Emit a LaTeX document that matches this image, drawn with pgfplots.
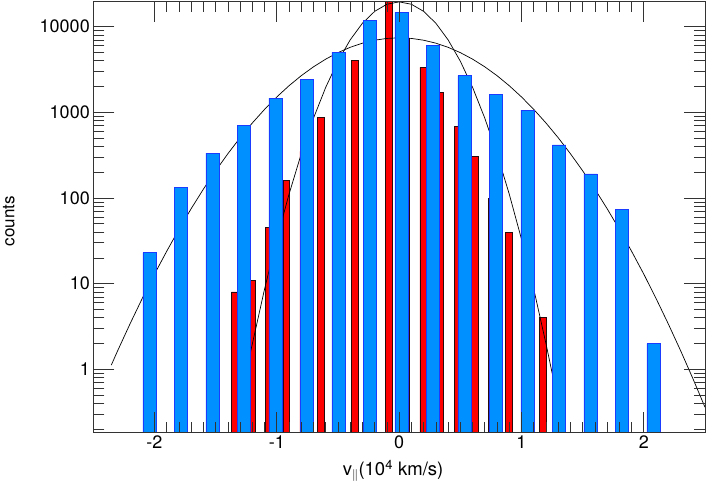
\documentclass[border=0pt]{standalone}
\usepackage{fontspec}
\setmainfont{TeX Gyre Heros}
\usepackage{pgfplots}
\usetikzlibrary{plotmarks}
\pgfplotsset{compat=1.18}
\definecolor{bfill}{RGB}{0,144,255}
\definecolor{bedge}{RGB}{25,60,255}
\definecolor{rfill}{RGB}{255,0,0}
\definecolor{redge}{RGB}{40,10,10}
\begin{document}
\begin{tikzpicture}
\path[use as bounding box] (0,0) rectangle (706pt,488pt);
\begin{axis}[
  at={(93.3pt,55.7pt)}, anchor=south west,
  scale only axis, width=611.7pt, height=430.6pt,
  ymode=log,
  xmin=-2.5, xmax=2.5, ymin=0.184, ymax=19590,
  xtick={-2,-1,0,1,2}, xticklabels={-2,-1,0,1,2},
  minor x tick num=9,
  ytick={1,10,100,1000,10000}, yticklabels={1,10,100,1000,10000},
  tick align=inside, xtick pos=both, ytick pos=both,
  major tick length=20pt, minor tick length=10pt,
  every tick/.append style={black!80, line width=0.7pt},
  axis line style={black!80, line width=0.8pt},
  axis on top=true,
  tick label style={font=\fontsize{18}{22}\selectfont},
  xlabel={v\textsubscript{$\|$}(10\textsuperscript{4} km/s)},
  ylabel={counts},
  xlabel style={at={(axis description cs:0.49,-0.09)}, anchor=center, font=\fontsize{18.5}{22}\selectfont},
  ylabel style={at={(axis description cs:-0.138,0.49)}, anchor=center, font=\fontsize{17}{20}\selectfont},
]
% red histogram: bars of half width 0.0275 about the bin centre, value as height
\addplot[fill=rfill, draw=redge, line width=0.6pt] coordinates {
(-1.3705,0.1) (-1.3705,8) (-1.3155,8) (-1.3155,0.1)
(-1.2305,0.1) (-1.2305,11) (-1.1755,11) (-1.1755,0.1)
(-1.0905,0.1) (-1.0905,45) (-1.0355,45) (-1.0355,0.1)
(-0.9505,0.1) (-0.9505,160) (-0.8955,160) (-0.8955,0.1)
(-0.8105,0.1) (-0.8105,350) (-0.7555,350) (-0.7555,0.1)
(-0.6705,0.1) (-0.6705,870) (-0.6155,870) (-0.6155,0.1)
(-0.5305,0.1) (-0.5305,1900) (-0.4755,1900) (-0.4755,0.1)
(-0.3905,0.1) (-0.3905,4080) (-0.3355,4080) (-0.3355,0.1)
(-0.2505,0.1) (-0.2505,9000) (-0.1955,9000) (-0.1955,0.1)
(-0.1105,0.1) (-0.1105,19600) (-0.0555,19600) (-0.0555,0.1)
(0.0295,0.1) (0.0295,7400) (0.0845,7400) (0.0845,0.1)
(0.1695,0.1) (0.1695,3360) (0.2245,3360) (0.2245,0.1)
(0.3095,0.1) (0.3095,1700) (0.3645,1700) (0.3645,0.1)
(0.4495,0.1) (0.4495,693) (0.5045,693) (0.5045,0.1)
(0.5895,0.1) (0.5895,304) (0.6445,304) (0.6445,0.1)
(0.7295,0.1) (0.7295,100) (0.7845,100) (0.7845,0.1)
(0.8695,0.1) (0.8695,40) (0.9245,40) (0.9245,0.1)
(1.0095,0.1) (1.0095,12) (1.0645,12) (1.0645,0.1)
(1.1495,0.1) (1.1495,4) (1.2045,4) (1.2045,0.1)
} --cycle;
% narrow fit
\addplot[black, line width=0.7pt] coordinates {
(-1.214,1.61) (-1.1,8.68) (-1.0,33.1) (-0.9,111) (-0.8,329) (-0.7,856)
(-0.6,1963) (-0.5,3959) (-0.4,7027) (-0.3,10982) (-0.2,15110) (-0.1,18290)
(0,19498) (0.1,18290) (0.2,15110) (0.3,10982) (0.4,7027) (0.5,3959)
(0.6,1963) (0.7,856) (0.8,329) (0.9,111) (1.0,33.1) (1.1,8.68) (1.2,2.0) (1.253,0.87)
};
% wide fit
\addplot[black, line width=0.7pt] coordinates {
(-2.353,1.12) (-2.3,1.66) (-2.2,3.39) (-2.1,6.72) (-2.0,12.9) (-1.9,23.9)
(-1.8,43.1) (-1.7,75.1) (-1.6,127) (-1.5,208) (-1.4,329) (-1.3,506)
(-1.2,752) (-1.1,1084) (-1.0,1514) (-0.9,2047) (-0.8,2682) (-0.7,3403)
(-0.6,4183) (-0.5,4983) (-0.4,5748) (-0.3,6426) (-0.2,6958) (-0.1,7298)
(0,7413) (0.1,7298) (0.2,6958) (0.3,6426) (0.4,5748) (0.5,4983) (0.6,4183)
(0.7,3403) (0.8,2682) (0.9,2047) (1.0,1514) (1.1,1084) (1.2,752) (1.3,506)
(1.4,329) (1.5,208) (1.6,127) (1.7,75.1) (1.8,43.1) (1.9,23.9) (2.0,12.9)
(2.1,6.72) (2.2,3.39) (2.3,1.66) (2.4,0.786) (2.5,0.361)
};
% blue histogram: bars of half width 0.0545 about the bin centre
\addplot[fill=bfill, draw=bedge, line width=0.6pt] coordinates {
(-2.0945,0.1) (-2.0945,23) (-1.9855,23) (-1.9855,0.1)
(-1.837,0.1) (-1.837,133) (-1.728,133) (-1.728,0.1)
(-1.5795,0.1) (-1.5795,335) (-1.4705,335) (-1.4705,0.1)
(-1.322,0.1) (-1.322,703) (-1.213,703) (-1.213,0.1)
(-1.0645,0.1) (-1.0645,1470) (-0.9555,1470) (-0.9555,0.1)
(-0.807,0.1) (-0.807,2450) (-0.698,2450) (-0.698,0.1)
(-0.5495,0.1) (-0.5495,5000) (-0.4405,5000) (-0.4405,0.1)
(-0.292,0.1) (-0.292,11750) (-0.183,11750) (-0.183,0.1)
(-0.0345,0.1) (-0.0345,14700) (0.0745,14700) (0.0745,0.1)
(0.223,0.1) (0.223,6000) (0.332,6000) (0.332,0.1)
(0.4805,0.1) (0.4805,2680) (0.5895,2680) (0.5895,0.1)
(0.738,0.1) (0.738,1620) (0.847,1620) (0.847,0.1)
(0.9955,0.1) (0.9955,1065) (1.1045,1065) (1.1045,0.1)
(1.253,0.1) (1.253,417) (1.362,417) (1.362,0.1)
(1.5105,0.1) (1.5105,191) (1.6195,191) (1.6195,0.1)
(1.768,0.1) (1.768,73) (1.877,73) (1.877,0.1)
(2.0255,0.1) (2.0255,2) (2.1345,2) (2.1345,0.1)
} --cycle;
% y-axis decade ticks (left and right sides, inward)
\addplot[only marks, mark=-, mark size=10.5pt, mark options={draw=black!80, line width=0.7pt}] coordinates {
(-2.4142,1) (-2.4142,10) (-2.4142,100) (-2.4142,1000) (-2.4142,10000)
(2.4142,1) (2.4142,10) (2.4142,100) (2.4142,1000) (2.4142,10000)
};
% y-axis minor ticks
\addplot[only marks, mark=-, mark size=5.5pt, mark options={draw=black!80, line width=0.7pt}] coordinates {
(-2.455,0.2) (-2.455,0.3) (-2.455,0.4) (-2.455,0.5) (-2.455,0.6) (-2.455,0.7) (-2.455,0.8) (-2.455,0.9)
(-2.455,2) (-2.455,3) (-2.455,4) (-2.455,5) (-2.455,6) (-2.455,7) (-2.455,8) (-2.455,9)
(-2.455,20) (-2.455,30) (-2.455,40) (-2.455,50) (-2.455,60) (-2.455,70) (-2.455,80) (-2.455,90)
(-2.455,200) (-2.455,300) (-2.455,400) (-2.455,500) (-2.455,600) (-2.455,700) (-2.455,800) (-2.455,900)
(-2.455,2000) (-2.455,3000) (-2.455,4000) (-2.455,5000) (-2.455,6000) (-2.455,7000) (-2.455,8000) (-2.455,9000)
(2.455,0.2) (2.455,0.3) (2.455,0.4) (2.455,0.5) (2.455,0.6) (2.455,0.7) (2.455,0.8) (2.455,0.9)
(2.455,2) (2.455,3) (2.455,4) (2.455,5) (2.455,6) (2.455,7) (2.455,8) (2.455,9)
(2.455,20) (2.455,30) (2.455,40) (2.455,50) (2.455,60) (2.455,70) (2.455,80) (2.455,90)
(2.455,200) (2.455,300) (2.455,400) (2.455,500) (2.455,600) (2.455,700) (2.455,800) (2.455,900)
(2.455,2000) (2.455,3000) (2.455,4000) (2.455,5000) (2.455,6000) (2.455,7000) (2.455,8000) (2.455,9000)
};
\end{axis}
\end{tikzpicture}
\end{document}
